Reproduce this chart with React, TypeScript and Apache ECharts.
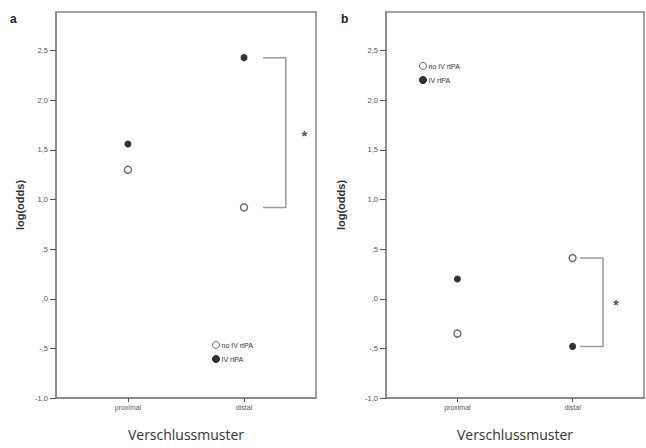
import React, { useEffect, useRef } from "react";
import * as echarts from "echarts";

const categories = ["proximal", "distal"];
const seriesNames = ["no IV rtPA", "IV rtPA"];
const panelALabels = "a";
const panelBLabels = "b";
// panel a
const aNoIV = [1.3, 0.92];
const aIV = [1.56, 2.43];
// panel b
const bNoIV = [-0.35, 0.41];
const bIV = [0.2, -0.48];
const yTicks = [-1, -0.5, 0, 0.5, 1, 1.5, 2, 2.5];
const xTicks = [0, 1];

const fmtY = (v: number) => {
  const s = Math.abs(v).toFixed(1).replace(".", ",");
  const t = s.startsWith("0") ? s.slice(1) : s;
  return (v < 0 ? "-" : "") + t;
};

const AX = "#858585";
const TXT = "#555";

export default function App() {
  const ref = useRef<HTMLDivElement>(null);
  useEffect(() => {
    if (!ref.current) return;
    const chart = echarts.init(ref.current, null, { renderer: "svg" });

    const mkX = (gi: number) => ({
      type: "value",
      gridIndex: gi,
      min: -0.62,
      max: 1.62,
      name: "Verschlussmuster",
      nameLocation: "middle",
      nameGap: 29,
      nameTextStyle: { fontFamily: "Open Sans", fontSize: 14, color: "#333" },
      axisLine: { show: true, onZero: false, lineStyle: { color: AX, width: 1.5 } },
      axisTick: { show: true, length: 4, customValues: xTicks, lineStyle: { color: "#555", width: 1 } },
      axisLabel: {
        customValues: xTicks,
        formatter: (v: number) => categories[Math.round(v)] ?? "",
        fontSize: 7,
        fontFamily: "Liberation Sans",
        color: TXT,
        margin: 6,
      },
      splitLine: { show: false },
    });
    const mkY = (gi: number, gap: number) => ({
      type: "value",
      gridIndex: gi,
      min: -1,
      max: 2.89,
      name: "log(odds)",
      nameLocation: "middle",
      nameGap: gap,
      nameTextStyle: { fontFamily: "Liberation Sans", fontSize: 11, fontWeight: "bold", color: "#333" },
      axisLine: { show: true, onZero: false, lineStyle: { color: AX, width: 1.5 } },
      axisTick: { show: true, length: 6, customValues: yTicks, lineStyle: { color: "#555", width: 1 } },
      axisLabel: {
        customValues: yTicks,
        formatter: (v: number) => fmtY(v),
        fontSize: 7.5,
        fontFamily: "Liberation Sans",
        color: TXT,
        margin: 8,
      },
      splitLine: { show: false },
    });

    const hollow = { color: "#fff", borderColor: "#444", borderWidth: 1.4 };
    const filled = { color: "#000", borderColor: "#000", borderWidth: 0 };

    const pts = (gi: number, noIV: number[], iv: number[]) => [
      {
        name: seriesNames[0],
        type: "scatter",
        xAxisIndex: gi,
        yAxisIndex: gi,
        symbol: "circle",
        symbolSize: 7,
        itemStyle: hollow,
        data: noIV.map((v, i) => [xTicks[i], v]),
      },
      {
        name: seriesNames[1],
        type: "scatter",
        xAxisIndex: gi,
        yAxisIndex: gi,
        symbol: "circle",
        symbolSize: 7,
        itemStyle: filled,
        data: iv.map((v, i) => [xTicks[i], v]),
      },
    ];

    const bracket = (gi: number, x0: number, x1: number, xs: number, yA: number, yB: number) => [
      {
        type: "line",
        xAxisIndex: gi,
        yAxisIndex: gi,
        symbol: "none",
        silent: true,
        lineStyle: { color: "#9a9a9a", width: 1.5 },
        data: [
          [x0, yA],
          [x1, yA],
          [x1, yB],
          [x0, yB],
        ],
      },
      {
        type: "scatter",
        xAxisIndex: gi,
        yAxisIndex: gi,
        symbolSize: 0,
        silent: true,
        itemStyle: { color: "#222" },
        label: {
          show: true,
          position: "inside",
          formatter: "*",
          fontSize: 14,
          fontWeight: "bold",
          fontFamily: "Liberation Sans",
          color: "#222",
          offset: [0, 3],
        },
        data: [[xs, (yA + yB) / 2]],
      },
    ];

    const legendBase = {
      orient: "vertical",
      itemWidth: 7,
      itemHeight: 7,
      itemGap: 6,
      padding: 0,
      icon: "circle",
      data: seriesNames,
      itemStyle: { borderWidth: 1 },
      textStyle: { fontSize: 7, fontFamily: "Liberation Sans", color: "#333", padding: [0, 0, 0, -3] },
      selectedMode: false,
    };

    chart.setOption({
      animation: false,
      backgroundColor: "#fff",
      title: [
        { text: panelALabels, left: 10, top: 13, padding: 0, textStyle: { fontSize: 12, fontWeight: "bold", fontFamily: "Liberation Sans", color: "#222" } },
        { text: panelBLabels, left: 341, top: 13, padding: 0, textStyle: { fontSize: 12, fontWeight: "bold", fontFamily: "Liberation Sans", color: "#222" } },
      ],
      grid: [
        { left: 56, top: 12, width: 260, height: 386, show: true, borderColor: AX, borderWidth: 1.5, backgroundColor: "transparent" },
        { left: 386, top: 12, width: 258, height: 386, show: true, borderColor: AX, borderWidth: 1.5, backgroundColor: "transparent" },
      ],
      legend: [
        { ...legendBase, left: 212, top: 341 },
        { ...legendBase, left: 419, top: 62 },
      ],
      xAxis: [mkX(0), mkX(1)],
      yAxis: [mkY(0, 31), mkY(1, 40)],
      series: [
        ...pts(0, aNoIV, aIV),
        ...pts(1, bNoIV, bIV),
        ...bracket(0, 1.164, 1.36, 1.52, aIV[1], aNoIV[1]),
        ...bracket(1, 1.064, 1.264, 1.377, bNoIV[1], bIV[1]),
      ],
    });
    return () => chart.dispose();
  }, []);
  return <div ref={ref} style={{ width: 646, height: 448, position: "absolute", left: 0, top: 0 }} />;
}
